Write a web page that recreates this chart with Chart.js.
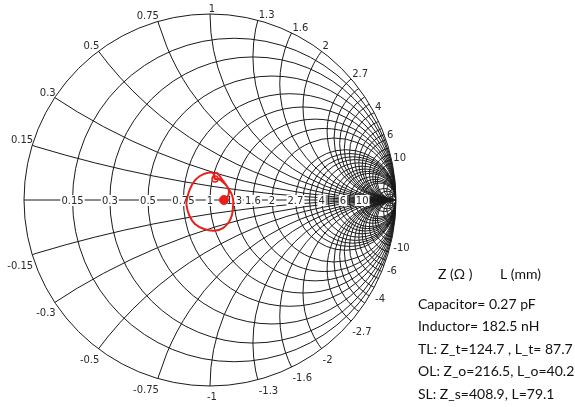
<!DOCTYPE html>
<html>
<head>
<meta charset="utf-8">
<script src="https://cdn.jsdelivr.net/npm/chart.js@4/dist/chart.umd.min.js"></script>
<style>
  html, body { margin: 0; padding: 0; background: #fff; }
  #wrap { position: relative; width: 575px; height: 407px; }
</style>
</head>
<body>
<div id="wrap"><canvas id="smith" width="575" height="407"></canvas></div>
<script>
// grid values (normalised resistance / reactance)
const resistanceTicks = [0.15, 0.3, 0.5, 0.75, 1, 1.3, 1.6, 2, 2.7, 4, 6, 10];
const reactanceTicks = [0.15, 0.3, 0.5, 0.75, 1, 1.3, 1.6, 2, 2.7, 4, 6, 10];
// unlabelled fine grid near the right edge
const fineTicks = [3, 3.3, 3.6, 4.5, 5, 5.5, 7, 8, 9, 15, 20, 30, 50];

// measured reflection coefficient trace (real / imaginary part)
const traceRe = [0.075, 0.097, 0.102, 0.097, 0.081, 0.048, 0.027, 0.022, 0.038, 0.059, 0.091, 0.113, 0.124, 0.124,
                 0.118, 0.102, 0.070, 0.022, -0.032, -0.081, -0.110, -0.126, -0.124, -0.108, -0.081, -0.054, -0.016, 0.016, 0.027];
const traceIm = [0.000, 0.022, 0.048, 0.065, 0.086, 0.113, 0.113, 0.140, 0.145, 0.118, 0.075, 0.038, 0.005, -0.032,
                 -0.081, -0.118, -0.151, -0.165, -0.156, -0.129, -0.086, -0.030, 0.005, 0.059, 0.105, 0.129, 0.145, 0.145, 0.113];
const markerOpen = { x: 0.027, y: 0.113 };
const markerFilled = { x: 0.075, y: 0.000 };

const infoHeader = ['Z (Ω )', 'L (mm)'];
const infoLines = [
    'Capacitor= 0.27 pF',
    'Inductor= 182.5 nH',
    'TL: Z_t=124.7 , L_t= 87.7',
    'OL: Z_o=216.5, L_o=40.2',
    'SL: Z_s=408.9, L=79.1'
];

function fmt(v) {
    return String(v);
}

const smithGrid = {
    id: 'smithGrid',
    beforeDatasetsDraw(chart) {
        const ctx = chart.ctx;
        const xs = chart.scales.x, ys = chart.scales.y;
        const cx = xs.getPixelForValue(0), cy = ys.getPixelForValue(0);
        const unit = xs.getPixelForValue(1) - cx;

        ctx.save();
        ctx.strokeStyle = '#1a1a1a';
        ctx.lineWidth = 1;

        // clip to the unit circle
        ctx.beginPath();
        ctx.arc(cx, cy, unit, 0, Math.PI * 2);
        ctx.save();
        ctx.clip();

        const allR = resistanceTicks.concat(fineTicks);
        const allX = reactanceTicks.concat(fineTicks);

        // resistance circles
        allR.forEach(r => {
            const c = r / (r + 1), rad = 1 / (r + 1);
            ctx.beginPath();
            ctx.arc(xs.getPixelForValue(c), cy, rad * unit, 0, Math.PI * 2);
            ctx.stroke();
        });
        // reactance arcs
        allX.forEach(x => {
            [x, -x].forEach(v => {
                ctx.beginPath();
                ctx.arc(xs.getPixelForValue(1), ys.getPixelForValue(1 / v), unit / Math.abs(v), 0, Math.PI * 2);
                ctx.stroke();
            });
        });
        // real axis
        ctx.beginPath();
        ctx.moveTo(xs.getPixelForValue(-1), cy);
        ctx.lineTo(xs.getPixelForValue(1), cy);
        ctx.stroke();
        ctx.restore();

        // outer circle
        ctx.beginPath();
        ctx.arc(cx, cy, unit, 0, Math.PI * 2);
        ctx.stroke();

        ctx.font = '10px "DejaVu Sans"';
        ctx.fillStyle = '#2a2a2a';

        // resistance labels on the real axis
        ctx.textAlign = 'center';
        ctx.textBaseline = 'middle';
        resistanceTicks.forEach(r => {
            const px = xs.getPixelForValue((r - 1) / (r + 1));
            const t = fmt(r);
            const w = ctx.measureText(t).width;
            ctx.fillStyle = '#fff';
            ctx.fillRect(px - w / 2 - 1, cy - 5, w + 2, 11);
            ctx.fillStyle = '#2a2a2a';
            ctx.fillText(t, px, cy + 1);
        });

        // reactance labels round the edge
        ctx.textBaseline = 'alphabetic';
        reactanceTicks.forEach(x => {
            [x, -x].forEach(v => {
                const d = v * v + 1;
                const px = xs.getPixelForValue((v * v - 1) / d);
                const py = ys.getPixelForValue(2 * v / d);
                const t = v > 0 ? fmt(v) : '-' + fmt(-v);
                let tx = px;
                if (px < cx - 3) { ctx.textAlign = 'right'; tx = px + 1; }
                else if (px > cx + 3) { ctx.textAlign = 'left'; tx = px + 1; }
                else { ctx.textAlign = 'center'; tx = px + 2; }
                const ty = v > 0 ? py - 2 : py + 14;
                ctx.fillText(t, tx, ty);
            });
        });
        ctx.restore();
    },
    afterDraw(chart) {
        const ctx = chart.ctx;
        ctx.save();
        ctx.fillStyle = '#111';
        ctx.font = '14px Lato';
        ctx.textBaseline = 'middle';
        ctx.textAlign = 'left';
        ctx.fillText(infoHeader[0], 438, 274);
        ctx.fillText(infoHeader[1], 500, 274);
        infoLines.forEach((s, i) => {
            ctx.fillText(s, 418, 304 + i * 22.5);
        });
        ctx.restore();
    }
};

const tracePoints = traceRe.map((v, i) => ({ x: v, y: traceIm[i] }));

new Chart(document.getElementById('smith').getContext('2d'), {
    type: 'scatter',
    data: {
        datasets: [{
            data: tracePoints,
            showLine: true,
            borderColor: '#e8201c',
            borderWidth: 2,
            pointRadius: 0,
            tension: 0.4
        }, {
            data: [markerOpen],
            pointRadius: 3,
            pointBackgroundColor: '#fff',
            pointBorderColor: '#e8201c',
            pointBorderWidth: 1.5
        }, {
            data: [markerFilled],
            pointRadius: 4.5,
            pointBackgroundColor: '#e8201c',
            pointBorderColor: '#e8201c'
        }]
    },
    options: {
        responsive: false,
        animation: false,
        layout: {
            padding: { left: 24, right: 179, top: 14, bottom: 21 }
        },
        scales: {
            x: { type: 'linear', min: -1, max: 1, display: false },
            y: { type: 'linear', min: -1, max: 1, display: false }
        },
        plugins: {
            legend: { display: false },
            tooltip: { enabled: false }
        }
    },
    plugins: [smithGrid]
});
</script>
</body>
</html>
